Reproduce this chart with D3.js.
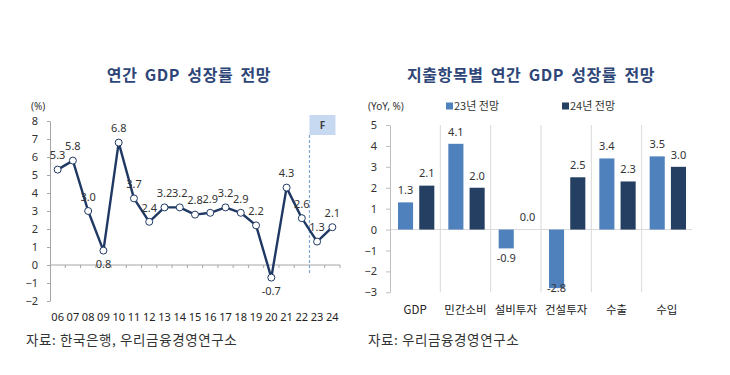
<!DOCTYPE html>
<html>
<head>
<meta charset="utf-8">
<script src="https://cdn.jsdelivr.net/npm/d3@7"></script>
<style>
  body { margin: 0; background: #fff; }
  svg { display: block; font-family: "Noto Sans CJK KR", "Noto Sans", sans-serif; }
</style>
</head>
<body>
<div id="chart"></div>
<script>
(function () {

  // Datos del gráfico de líneas (crecimiento anual del PIB)
  const years = ['06', '07', '08', '09', '10', '11', '12', '13', '14', '15', '16', '17', '18', '19', '20', '21', '22', '23', '24']
  const gdp = [5.3, 5.8, 3.0, 0.8, 6.8, 3.7, 2.4, 3.2, 3.2, 2.8, 2.9, 3.2, 2.9, 2.2, -0.7, 4.3, 2.6, 1.3, 2.1]
  const below_years = ['09', '20']
  const forecast_from = '23'
  const line_ticks = [-2, -1, 0, 1, 2, 3, 4, 5, 6, 7, 8]

  // Datos del gráfico de barras
  const items = ['GDP', '민간소비', '설비투자', '건설투자', '수출', '수입']
  const f23 = [1.3, 4.1, -0.9, -2.8, 3.4, 3.5]
  const f24 = [2.1, 2.0, 0.0, 2.5, 2.3, 3.0]
  const series = ['23년 전망', '24년 전망']
  const bar_ticks = [-3, -2, -1, 0, 1, 2, 3, 4, 5]

  const W = 730, H = 375
  const navy = '#1f3864'
  const title_color = '#2e4677'
  const axis_color = '#a6a6a6'
  const color = d3.scaleOrdinal().domain(series).range(['#4f81bd', '#243f62'])

  const svg = d3.select('#chart').append('svg').attr('width', W).attr('height', H)

  // ---------- Gráfico izquierdo ----------
  const left = svg.append('g')

  left.append('text')
    .attr('x', 189).attr('y', 75).attr('dy', '0.35em')
    .attr('text-anchor', 'middle')
    .attr('font-size', 16).attr('font-weight', 'bold')
    .attr('letter-spacing', 0.6).attr('word-spacing', 3)
    .attr('fill', title_color)
    .text('연간 GDP 성장률 전망')

  const x = d3.scaleBand().domain(years).range([50, 340])
  const y = d3.scaleLinear().domain([-2, 8]).range([301, 121])

  // Eje Y
  left.append('g')
    .attr('transform', 'translate(50,0)')
    .call(d3.axisLeft(y).tickValues(line_ticks).tickSize(3).tickPadding(9).tickSizeOuter(0))
    .call(g => g.select('.domain').attr('stroke', axis_color))
    .call(g => g.selectAll('.tick line').attr('stroke', axis_color))
    .call(g => g.selectAll('text').attr('font-size', 11).attr('fill', '#333').attr('font-family', '"Noto Sans", sans-serif'))

  // Línea del cero con marcas entre categorías
  left.append('line')
    .attr('x1', x.range()[0]).attr('x2', x.range()[1])
    .attr('y1', y(0)).attr('y2', y(0))
    .attr('stroke', axis_color)
  left.append('g').selectAll('line')
    .data(years.slice(1).concat(['end']))
    .join('line')
    .attr('x1', d => d == 'end' ? x.range()[1] : x(d))
    .attr('x2', d => d == 'end' ? x.range()[1] : x(d))
    .attr('y1', y(0)).attr('y2', y(0) + 3)
    .attr('stroke', axis_color)

  // Etiquetas del eje X abajo
  left.append('g')
    .attr('transform', `translate(0,${y(-2)})`)
    .call(d3.axisBottom(x).tickSize(0).tickPadding(12))
    .call(g => g.select('.domain').remove())
    .call(g => g.selectAll('text').attr('font-size', 11).attr('fill', '#222').attr('font-family', '"Noto Sans", sans-serif'))

  // Zona de pronóstico
  const fx = x(forecast_from)
  left.append('line')
    .attr('x1', fx).attr('x2', fx)
    .attr('y1', 135).attr('y2', y(-0.5))
    .attr('stroke', '#7fa6d6').attr('stroke-width', 1.2)
    .attr('stroke-dasharray', '3,2')
  left.append('rect')
    .attr('x', fx).attr('y', 115)
    .attr('width', 26).attr('height', 20)
    .attr('fill', '#c6d9f1')
  left.append('text')
    .attr('x', fx + 13).attr('y', 125).attr('dy', '0.35em')
    .attr('text-anchor', 'middle')
    .attr('font-size', 10).attr('font-weight', 'bold').attr('fill', '#404040')
    .attr('font-family', '"Noto Sans", sans-serif')
    .text('F')

  const points = years.map((yr, i) => ({ yr, v: gdp[i] }))
  const cx = d => x(d.yr) + x.bandwidth() / 2

  left.append('path')
    .datum(points)
    .attr('fill', 'none')
    .attr('stroke', navy)
    .attr('stroke-width', 2.4)
    .attr('stroke-linejoin', 'round')
    .attr('d', d3.line().x(cx).y(d => y(d.v)))

  left.append('g').selectAll('circle')
    .data(points)
    .join('circle')
    .attr('cx', cx).attr('cy', d => y(d.v))
    .attr('r', 3.5)
    .attr('fill', '#fff')
    .attr('stroke', navy).attr('stroke-width', 1)

  left.append('g').selectAll('text')
    .data(points)
    .join('text')
    .attr('x', cx)
    .attr('y', d => below_years.includes(d.yr) ? y(d.v) + 14 : y(d.v) - 14)
    .attr('dy', '0.35em')
    .attr('text-anchor', 'middle')
    .attr('font-size', 11).attr('fill', '#333')
    .attr('font-family', '"Noto Sans", sans-serif')
    .text(d => d.v.toFixed(1))

  left.append('text')
    .attr('x', 31).attr('y', 106).attr('dy', '0.35em')
    .attr('font-size', 10).attr('fill', '#333')
    .attr('font-family', '"Noto Sans", sans-serif')
    .text('(%)')

  left.append('text')
    .attr('x', 26).attr('y', 340).attr('dy', '0.35em')
    .attr('font-size', 13.5).attr('letter-spacing', 0.6).attr('fill', '#333')
    .text('자료: 한국은행, 우리금융경영연구소')

  // ---------- Gráfico derecho ----------
  const right = svg.append('g')

  right.append('text')
    .attr('x', 531).attr('y', 75).attr('dy', '0.35em')
    .attr('text-anchor', 'middle')
    .attr('font-size', 16).attr('font-weight', 'bold')
    .attr('letter-spacing', 0.6).attr('word-spacing', 3)
    .attr('fill', title_color)
    .text('지출항목별 연간 GDP 성장률 전망')

  const x0 = d3.scaleBand().domain(items).range([390, 692])
  const x1 = d3.scaleBand().domain(series).range([8, x0.bandwidth() - 6]).paddingInner(0.29)
  const yb = d3.scaleLinear().domain([-3, 5]).range([292.3, 125])

  // Separadores entre categorías
  right.append('g').selectAll('line')
    .data(items.slice(1))
    .join('line')
    .attr('x1', d => x0(d)).attr('x2', d => x0(d))
    .attr('y1', yb(5)).attr('y2', yb(-3))
    .attr('stroke', '#d9d9d9')

  right.append('line')
    .attr('x1', x0.range()[0]).attr('x2', x0.range()[1])
    .attr('y1', yb(0)).attr('y2', yb(0))
    .attr('stroke', '#d9d9d9')

  right.append('g')
    .attr('transform', 'translate(390,0)')
    .call(d3.axisLeft(yb).tickValues(bar_ticks).tickSize(4).tickPadding(9).tickSizeOuter(0))
    .call(g => g.select('.domain').attr('stroke', '#bfbfbf'))
    .call(g => g.selectAll('.tick line').attr('stroke', '#bfbfbf'))
    .call(g => g.selectAll('text').attr('font-size', 11).attr('fill', '#333').attr('font-family', '"Noto Sans", sans-serif'))

  const bars = items.flatMap((it, i) => [
    { it, s: series[0], v: f23[i] },
    { it, s: series[1], v: f24[i] }
  ])

  right.append('g').selectAll('rect')
    .data(bars)
    .join('rect')
    .attr('x', d => x0(d.it) + x1(d.s))
    .attr('y', d => yb(Math.max(0, d.v)))
    .attr('width', x1.bandwidth())
    .attr('height', d => Math.abs(yb(d.v) - yb(0)))
    .attr('fill', d => color(d.s))

  right.append('g').selectAll('text')
    .data(bars)
    .join('text')
    .attr('x', d => x0(d.it) + x1(d.s) + x1.bandwidth() / 2)
    .attr('y', d => d.v < 0 ? Math.min(yb(d.v) + 10, 288) : yb(d.v) - 12)
    .attr('dy', '0.35em')
    .attr('text-anchor', 'middle')
    .attr('font-size', 11).attr('fill', '#333')
    .attr('font-family', '"Noto Sans", sans-serif')
    .text(d => d.v.toFixed(1))

  right.append('g').selectAll('text')
    .data(items)
    .join('text')
    .attr('x', d => x0(d) + x0.bandwidth() / 2)
    .attr('y', 310).attr('dy', '0.35em')
    .attr('text-anchor', 'middle')
    .attr('font-size', 11.5).attr('fill', '#222')
    .text(d => d)

  right.append('text')
    .attr('x', 368).attr('y', 106).attr('dy', '0.35em')
    .attr('font-size', 10).attr('fill', '#333')
    .attr('font-family', '"Noto Sans", sans-serif')
    .text('(YoY, %)')

  // Leyenda
  const legend = right.append('g').selectAll('g')
    .data(series)
    .join('g')
    .attr('transform', (d, i) => `translate(${446 + i * 116},106)`)
  legend.append('rect')
    .attr('x', 0).attr('y', -3.5).attr('width', 7).attr('height', 7)
    .attr('fill', color)
  legend.append('text')
    .attr('x', 8).attr('dy', '0.35em')
    .attr('font-size', 11).attr('fill', '#333')
    .text(d => d)

  right.append('text')
    .attr('x', 368).attr('y', 340).attr('dy', '0.35em')
    .attr('font-size', 13.5).attr('letter-spacing', 0.6).attr('fill', '#333')
    .text('자료: 우리금융경영연구소')

})()
</script>
</body>
</html>
